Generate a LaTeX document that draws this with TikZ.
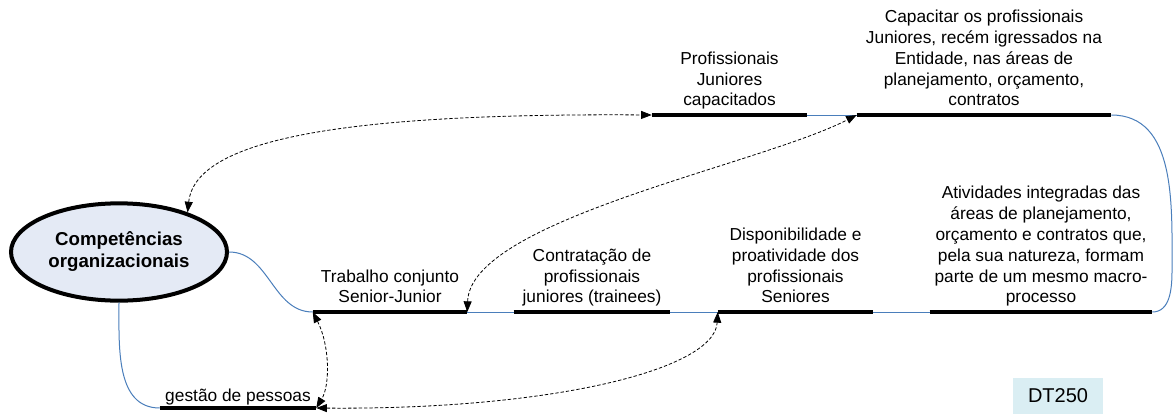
\documentclass[tikz,border=0pt]{standalone}
\usepackage{fontspec}
\setmainfont{Liberation Sans}
\usetikzlibrary{shapes.geometric,arrows.meta}
\definecolor{linkblue}{HTML}{4A7EBB}
\definecolor{ellfill}{HTML}{E4EAF5}
\definecolor{tagfill}{HTML}{DAEEF3}

\begin{document}
\begin{tikzpicture}[x=0.75pt,y=-0.75pt,
  evento/.style={anchor=south, align=center, inner xsep=0pt, inner ysep=2pt,
    font=\fontsize{13}{15.6}\selectfont},
  barra/.style={line width=3.5pt},
  liga/.style={linkblue, line width=0.75pt},
  rel/.style={line width=0.6pt, dash pattern=on 2.5pt off 1.5pt,
    {Triangle[length=8pt,width=6pt]}-{Triangle[length=8pt,width=6pt]}}]
  \useasboundingbox (0,0) rectangle (1173,414);
  % central ellipse
  \node[draw, ellipse, line width=3pt, fill=ellfill, minimum width=162pt,
    minimum height=73pt, inner sep=0pt, align=center,
    font=\bfseries\fontsize{14}{16.5}\selectfont] (comp) at (119,252)
    {Competências\\organizacionais};
  % lower row
  \node[evento, inner ysep=0pt, minimum width=117pt] (gp) at (238,408)
    {gestão de pessoas\strut};
  \node[evento, minimum width=115.5pt] (trab) at (390,312)
    {Trabalho conjunto\\Senior-Junior\strut};
  \node[evento, minimum width=117pt] (contr) at (592,312)
    {Contratação de\\profissionais\\juniores (trainees)\strut};
  \node[evento, minimum width=116.25pt] (disp) at (795.5,312)
    {Disponibilidade e\\proatividade dos\\profissionais\\Seniores\strut};
  \node[evento, minimum width=166.5pt] (ativ) at (1041,312)
    {Atividades integradas das\\áreas de planejamento,\\orçamento e contratos que,\\pela sua natureza, formam\\parte de um mesmo macro-\\processo\strut};
  % upper row
  \node[evento, minimum width=116.25pt] (capac) at (729.5,115)
    {Profissionais\\Juniores\\capacitados\strut};
  \node[evento, minimum width=190.5pt] (capa) at (984,115)
    {Capacitar os profissionais\\Juniores, recém igressados na\\Entidade, nas áreas de\\planejamento, orçamento,\\contratos\strut};
  \node[fill=tagfill, minimum width=67.5pt, minimum height=27pt, inner sep=0pt,
    font=\fontsize{15}{18}\selectfont] (dt) at (1058,395.5) {DT250};
  \coordinate (dobra) at (1172,270);
  % blue links
  \draw[liga] (comp.east) to[out=0,in=180] (trab.south west);
  \draw[liga] (comp.south) to[out=-90,in=180] (gp.south west);
  \draw[liga] (trab.south east) -- (contr.south west);
  \draw[liga] (contr.south east) -- (disp.south west);
  \draw[liga] (disp.south east) -- (ativ.south west);
  \draw[liga] (capac.south east) -- (capa.south west);
  \draw[liga] (capa.south east) to[out=0,in=90] (dobra)
    to[out=-90,in=0] (ativ.south east);
  % bars
  \foreach \b in {gp,trab,contr,disp,ativ,capac,capa}
    \draw[barra] (\b.south west) -- (\b.south east);
  % dashed relations
  \draw[rel] (comp.30) .. controls +(8,-75) and +(-300,-2) .. (capac.south west);
  \draw[rel] (trab.south east) .. controls +(3,-92) and +(-97,50) .. (capa.south west);
  \draw[rel] (trab.south west) .. controls +(17,33) and +(14,-23) .. (gp.south east);
  \draw[rel] (gp.south east) .. controls +(234,2) and +(-3,58) .. (disp.south west);
\end{tikzpicture}
\end{document}
